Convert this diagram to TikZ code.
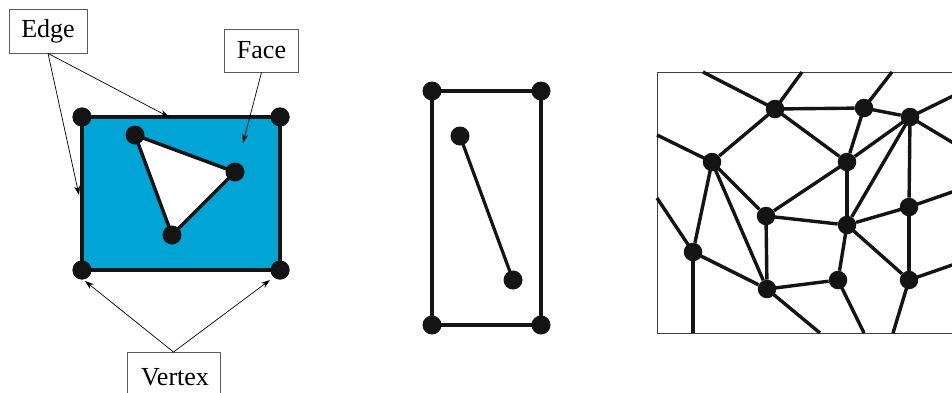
\documentclass[tikz,border=0pt]{standalone}
\usepackage{fontspec}
\setmainfont{Liberation Serif}
\usetikzlibrary{arrows.meta}
\definecolor{facecol}{RGB}{0,165,213}
\definecolor{boxgray}{RGB}{90,90,90}
\tikzset{
  dot/.style={circle,fill=black!92,inner sep=0pt,minimum size=19pt},
  gdot/.style={circle,fill=black!92,inner sep=0pt,minimum size=18.5pt},
  labelbox/.style={draw=boxgray,line width=0.8pt,fill=white,inner sep=0pt,font=\fontsize{26}{30}\selectfont},
  pointer/.style={line width=0.7pt,-{Stealth[length=9pt,width=6pt]}},
  gedge/.style={line width=3.4pt,black!92},
}
\begin{document}
\begin{tikzpicture}[x=1pt,y=-1pt]
\useasboundingbox (0,0) rectangle (952,392);
\fill[white] (0,0) rectangle (952,392);
\clip (0,0) rectangle (952,392);
% ---------- left panel ----------
\node[dot] (r1) at (82,117) {};
\node[dot] (r2) at (280,117) {};
\node[dot] (r3) at (280,270) {};
\node[dot] (r4) at (82,270) {};
\fill[facecol] (r1.center) -- (r2.center) -- (r3.center) -- (r4.center) -- cycle;
\draw[line width=4pt,black!92] (r1.center) -- (r2.center) -- (r3.center) -- (r4.center) -- cycle;
\coordinate (t1) at (135,135);
\coordinate (t2) at (235,172);
\coordinate (t3) at (172,235);
\filldraw[fill=white,draw=black!92,line width=3.5pt,line join=round] (t1) -- (t2) -- (t3) -- cycle;
\foreach \p in {r1,r2,r3,r4} \fill[black!92] (\p) circle (9.5pt);
\foreach \p in {t1,t2,t3} \fill[black!92] (\p) circle (9.5pt);
% labels
\node[labelbox,minimum width=78pt,minimum height=44pt] (edge) at (48,31) {Edge};
\node[labelbox,minimum width=74pt,minimum height=43pt] (face) at (261.5,50.5) {Face};
\node[labelbox,minimum width=93pt,minimum height=50pt,anchor=north] (vertex) at (173.5,352) {};
\node[font=\fontsize{26}{30}\selectfont,anchor=base] (vtext) at (175,385) {Vertex};
\coordinate (ea) at (169,117);
\coordinate (eb) at (79,195);
\coordinate (fa) at (243,143);
\coordinate (va) at (85,281);
\coordinate (vb) at (270,280);
\draw[pointer] (edge.south) -- (ea);
\draw[pointer] (edge.south) -- (eb);
\draw[pointer] (face.south) -- (fa);
\draw[pointer] (vertex.north) -- (va);
\draw[pointer] (vertex.north) -- (vb);
% ---------- middle panel ----------
\node[dot] (m1) at (432,91) {};
\node[dot] (m2) at (541,91) {};
\node[dot] (m3) at (541,325) {};
\node[dot] (m4) at (432,325) {};
\node[dot] (m5) at (460,136) {};
\node[dot] (m6) at (513,280) {};
\draw[line width=3.2pt,black!92] (m1.center) -- (m2.center) -- (m3.center) -- (m4.center) -- cycle;
\draw[line width=3.2pt,black!92] (m5.center) -- (m6.center);
% ---------- right panel ----------
\draw[line width=1pt,black!75] (960,72) -- (657,72) -- (657,333) -- (960,333);
\node[gdot] (A) at (775,109) {};
\node[gdot] (B) at (864,108) {};
\node[gdot] (C) at (910,117) {};
\node[gdot] (D) at (712,162) {};
\node[gdot] (E) at (847,162) {};
\node[gdot] (F) at (766,216) {};
\node[gdot] (G) at (847,225) {};
\node[gdot] (H) at (909,207) {};
\node[gdot] (I) at (693,252) {};
\node[gdot] (J) at (767,289) {};
\node[gdot] (K) at (838,280) {};
\node[gdot] (L) at (909,280) {};
\coordinate (bA1) at (703,72);
\coordinate (bA2) at (802,72);
\coordinate (bB) at (892,72);
\coordinate (bC1) at (955,95);
\coordinate (bC2) at (955,144);
\coordinate (bD) at (657,135);
\coordinate (bH) at (955,191);
\coordinate (bL1) at (955,264);
\coordinate (bL2) at (893,333);
\coordinate (bI1) at (657,198);
\coordinate (bI2) at (693,333);
\coordinate (bJ) at (820,333);
\coordinate (bK) at (864,333);
\foreach \a/\b in {A/bA1,A/bA2,A/B,A/D,A/E,B/bB,B/C,B/E,C/bC1,C/bC2,C/E,C/G,C/H,
  D/bD,D/I,D/F,D/J,E/F,E/G,F/G,F/J,H/G,H/bH,H/L,G/K,G/L,L/bL1,L/bL2,I/bI1,I/bI2,
  I/J,J/K,J/bJ,K/bK}
  \draw[gedge] (\a.center) -- (\b);
\end{tikzpicture}
\end{document}
